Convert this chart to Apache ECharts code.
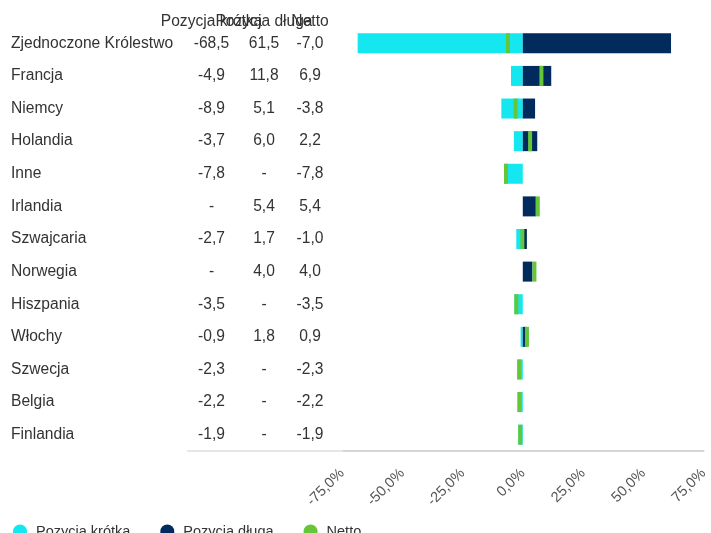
<!DOCTYPE html>
<html>
<head>
<meta charset="utf-8">
<script src="https://cdn.jsdelivr.net/npm/echarts@6/dist/echarts.min.js"></script>
<style>html,body{margin:0;padding:0;background:#fff}#c{width:711px;height:533px}</style>
</head>
<body>
<div id="c"></div>
<script>
const countries = ['Zjednoczone Królestwo','Francja','Niemcy','Holandia','Inne','Irlandia','Szwajcaria','Norwegia','Hiszpania','Włochy','Szwecja','Belgia','Finlandia'];
const shortPos = [-68.5,-4.9,-8.9,-3.7,-7.8,null,-2.7,null,-3.5,-0.9,-2.3,-2.2,-1.9];
const longPos  = [61.5,11.8,5.1,6.0,null,5.4,1.7,4.0,null,1.8,null,null,null];
const netPos   = [-7.0,6.9,-3.8,2.2,-7.8,5.4,-1.0,4.0,-3.5,0.9,-2.3,-2.2,-1.9];
const columnHeaders = ['Pozycja krótka','Pozycja długa','Netto'];

const FONT = 'Liberation Sans, Arial, sans-serif';
const FS = 15.6;
const C_SHORT = '#15E7F1', C_LONG = '#012A5D', C_NET = '#66C63A';
const fmt = v => v == null ? '-' : v.toFixed(1).replace('.', ',');
const rich = {
  n: {width: 177, align: 'left', fontSize: FS, color: '#333', fontFamily: FONT, fontWeight: 'normal'},
  a: {width: 47, align: 'center', fontSize: FS, color: '#333', fontFamily: FONT, fontWeight: 'normal'},
  b: {width: 58, align: 'center', fontSize: FS, color: '#333', fontFamily: FONT, fontWeight: 'normal'},
  c: {width: 34, align: 'center', fontSize: FS, color: '#333', fontFamily: FONT, fontWeight: 'normal'}
};

const chart = echarts.init(document.getElementById('c'), null, {renderer: 'canvas'});
chart.setOption({
  animation: false,
  textStyle: {fontFamily: FONT},
  title: {
    left: 6, top: 9,
    text: '{n| }{a|' + columnHeaders[0] + '}{b|' + columnHeaders[1] + '}{c|' + columnHeaders[2] + '}',
    textStyle: {fontWeight: 'normal', fontSize: FS, color: '#222', rich: rich}
  },
  legend: {
    left: 8, top: 519,
    icon: 'circle', itemWidth: 14, itemHeight: 14, itemGap: 30,
    textStyle: {fontSize: 14.5, color: '#333', fontFamily: FONT, padding: [0, 0, 0, 4]},
    data: ['Pozycja krótka', 'Pozycja długa', 'Netto']
  },
  grid: [
    {left: 342, right: 7, top: 27, bottom: 82},
    {left: 188, width: 154, top: 27, bottom: 82}
  ],
  xAxis: [
    {
      type: 'value', gridIndex: 0, min: -75, max: 75, interval: 25,
      splitLine: {show: false}, axisTick: {show: false},
      axisLine: {show: true, onZero: false, lineStyle: {color: '#d6d6d6', width: 2}},
      axisLabel: {rotate: 45, margin: 20, fontSize: 14.5, color: '#555', fontFamily: FONT,
        formatter: v => v.toFixed(1).replace('.', ',') + '%'}
    },
    {
      type: 'value', gridIndex: 1, min: 0, max: 1,
      splitLine: {show: false}, axisTick: {show: false}, axisLabel: {show: false},
      axisLine: {show: true, lineStyle: {color: '#e6e6e6', width: 2}}
    }
  ],
  yAxis: [
    {
      type: 'category', gridIndex: 0, data: countries, inverse: true,
      axisLine: {show: false}, axisTick: {show: false},
      axisLabel: {
        align: 'left', margin: 331, interval: 0,
        formatter: (v, i) => '{n|' + v + '}{a|' + fmt(shortPos[i]) + '}{b|' + fmt(longPos[i]) + '}{c|' + fmt(netPos[i]) + '}',
        rich: rich
      }
    },
    {
      type: 'category', gridIndex: 1, data: countries, inverse: true, show: false
    }
  ],
  series: [
    {name: 'Pozycja krótka', type: 'bar', stack: 'pos', data: shortPos, barWidth: 20,
      itemStyle: {color: C_SHORT}, xAxisIndex: 0, yAxisIndex: 0},
    {name: 'Pozycja długa', type: 'bar', stack: 'pos', data: longPos, barWidth: 20,
      itemStyle: {color: C_LONG}, xAxisIndex: 0, yAxisIndex: 0},
    {name: 'Netto', type: 'scatter', data: netPos, symbol: 'rect', symbolSize: [4, 20],
      symbolOffset: [2, 0], itemStyle: {color: C_NET, opacity: 1}, z: 5,
      xAxisIndex: 0, yAxisIndex: 0}
  ]
});
</script>
</body>
</html>
